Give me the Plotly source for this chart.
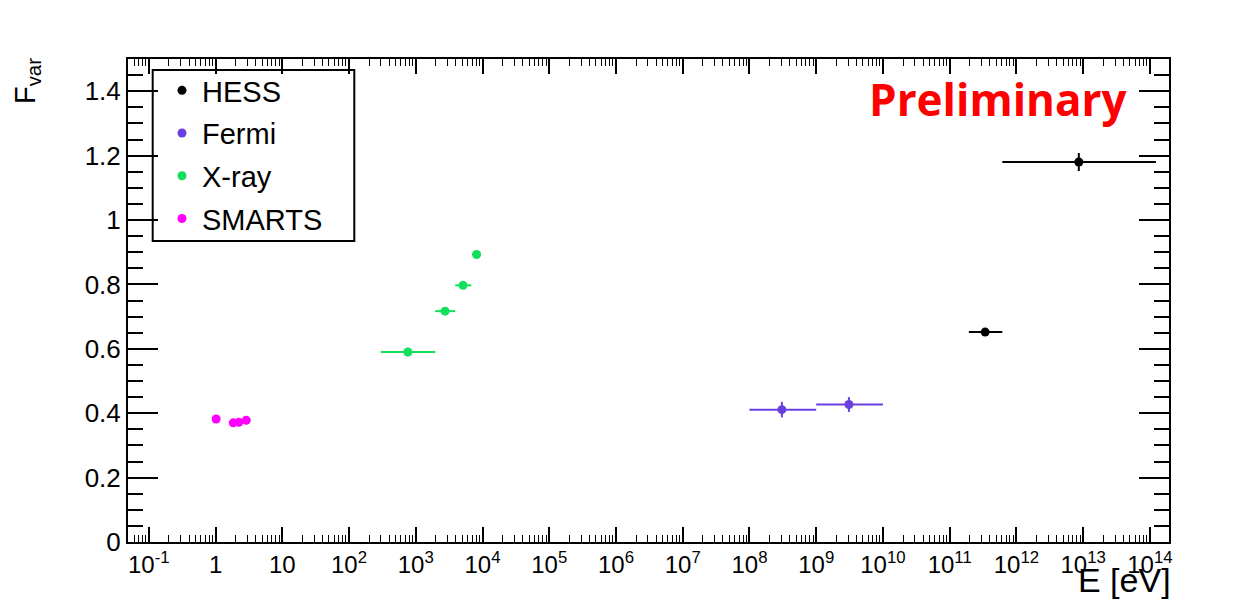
import plotly.graph_objects as go

# ---------------- data ----------------
hess_E = [3.4e11, 8.6e12]
hess_Elo = [1.94e11, 6.15e11]
hess_Ehi = [6.15e11, 1.23e14]
hess_F = [0.652, 1.180]
hess_Ferr = [0.008, 0.028]

fermi_E = [3.06e8, 3.09e9]
fermi_Elo = [1.0e8, 1.0e9]
fermi_Ehi = [1.0e9, 1.0e10]
fermi_F = [0.411, 0.427]
fermi_Ferr = [0.024, 0.023]

xray_E = [760, 2750, 5100, 8150]
xray_Elo = [300, 1950, 3900, 7000]
xray_Ehi = [1950, 3900, 6800, 9500]
xray_F = [0.590, 0.717, 0.797, 0.893]

smarts_E = [1.02, 1.84, 2.23, 2.88]
smarts_F = [0.382, 0.370, 0.372, 0.378]

x_tickvals = [1e-1, 1, 10, 1e2, 1e3, 1e4, 1e5, 1e6, 1e7, 1e8, 1e9, 1e10, 1e11, 1e12, 1e13, 1e14]
x_ticktext = ["10<sup>-1</sup>", "1", "10", "10<sup>2</sup>", "10<sup>3</sup>", "10<sup>4</sup>",
              "10<sup>5</sup>", "10<sup>6</sup>", "10<sup>7</sup>", "10<sup>8</sup>", "10<sup>9</sup>",
              "10<sup>10</sup>", "10<sup>11</sup>", "10<sup>12</sup>", "10<sup>13</sup>", "10<sup>14</sup>"]
y_tickvals = [0, 0.2, 0.4, 0.6, 0.8, 1.0, 1.2, 1.4]
y_ticktext = ["0", "0.2", "0.4", "0.6", "0.8", "1", "1.2", "1.4"]

# ---------------- styles ----------------
C_HESS = "#000000"
C_FERMI = "#6a3fe0"
C_XRAY = "#12e05c"
C_SMARTS = "#ff00ff"
FONT = "Liberation Sans, Arial, Helvetica, sans-serif"

W, H = 1258, 602
ML, MR, MT, MB = 128, 89, 59, 60
PW, PH = W - ML - MR, H - MT - MB


def px(xp):
    return (xp - ML) / PW


def py(yp):
    return (H - MB - yp) / PH


def errs(c, lo, hi):
    return [h - v for v, h in zip(c, hi)], [v - l for v, l in zip(c, lo)]


fig = go.Figure()

ep, em = errs(hess_E, hess_Elo, hess_Ehi)
fig.add_trace(go.Scatter(
    x=hess_E, y=hess_F, mode="markers", name="HESS", legendgroup="a",
    marker=dict(color=C_HESS, size=9),
    error_x=dict(type="data", array=ep, arrayminus=em, color=C_HESS, thickness=2, width=0),
    error_y=dict(type="data", array=hess_Ferr, color=C_HESS, thickness=2, width=0),
))
ep, em = errs(fermi_E, fermi_Elo, fermi_Ehi)
fig.add_trace(go.Scatter(
    x=fermi_E, y=fermi_F, mode="markers", name="Fermi", legendgroup="b",
    marker=dict(color=C_FERMI, size=9),
    error_x=dict(type="data", array=ep, arrayminus=em, color=C_FERMI, thickness=2, width=0),
    error_y=dict(type="data", array=fermi_Ferr, color=C_FERMI, thickness=2, width=0),
))
ep, em = errs(xray_E, xray_Elo, xray_Ehi)
fig.add_trace(go.Scatter(
    x=xray_E, y=xray_F, mode="markers", name="X-ray", legendgroup="c",
    marker=dict(color=C_XRAY, size=9),
    error_x=dict(type="data", array=ep, arrayminus=em, color=C_XRAY, thickness=2, width=0),
))
fig.add_trace(go.Scatter(
    x=smarts_E, y=smarts_F, mode="markers", name="SMARTS", legendgroup="d",
    marker=dict(color=C_SMARTS, size=9),
))

axis_common = dict(
    showline=True, linecolor="black", linewidth=2, mirror="ticks",
    ticks="inside", tickcolor="black", showgrid=False, zeroline=False,
    tickfont=dict(family=FONT, color="black"),
)

fig.update_xaxes(
    type="log", range=[-1.312, 14.286],
    tickmode="array", tickvals=x_tickvals, ticktext=x_ticktext,
    ticklen=15, tickwidth=1.5,
    minor=dict(ticks="inside", ticklen=7, tickwidth=1.2, tickcolor="black", dtick="D1", showgrid=False),
    **axis_common,
)
fig.update_xaxes(tickfont_size=24)
fig.update_yaxes(
    range=[0, 1.5], tickmode="array", tickvals=y_tickvals, ticktext=y_ticktext,
    ticklen=30, tickwidth=1.5,
    minor=dict(ticks="inside", ticklen=15, tickwidth=1.5, tickcolor="black", dtick=0.05, showgrid=False),
    **axis_common,
)
fig.update_yaxes(tickfont_size=26)

fig.add_annotation(
    text="F<sub>var</sub>", textangle=-90, xref="paper", yref="paper",
    x=px(27), y=py(56), xanchor="center", yanchor="top", showarrow=False,
    font=dict(family=FONT, size=29, color="black"),
)
fig.add_annotation(
    text="E [eV]", xref="paper", yref="paper",
    x=px(1173), y=py(580), xanchor="right", yanchor="middle", showarrow=False,
    font=dict(family=FONT, size=34, color="black"),
)
fig.add_annotation(
    text="<b>Preliminary</b>", xref="paper", yref="paper",
    x=px(998), y=py(99), xanchor="center", yanchor="middle", showarrow=False,
    font=dict(family="Open Sans, sans-serif", size=44, color="#ff0000"),
)

fig.add_shape(
    type="rect", xref="paper", yref="paper",
    x0=px(152.7), x1=px(354.3), y0=py(241), y1=py(70),
    line=dict(color="black", width=2), fillcolor="rgba(0,0,0,0)", layer="above",
)

fig.update_layout(
    width=W, height=H,
    margin=dict(l=ML, r=MR, t=MT, b=MB),
    paper_bgcolor="white", plot_bgcolor="white",
    font=dict(family=FONT, color="black"),
    showlegend=True,
    legend=dict(
        x=px(162), y=py(65), xanchor="left", yanchor="top",
        bgcolor="rgba(255,255,255,0)", borderwidth=0,
        font=dict(family=FONT, size=29, color="black"),
        traceorder="grouped", tracegroupgap=2,
    ),
)

fig.write_html("out.html", config={"displayModeBar": False},
               post_script="document.body.style.margin='0px';")
